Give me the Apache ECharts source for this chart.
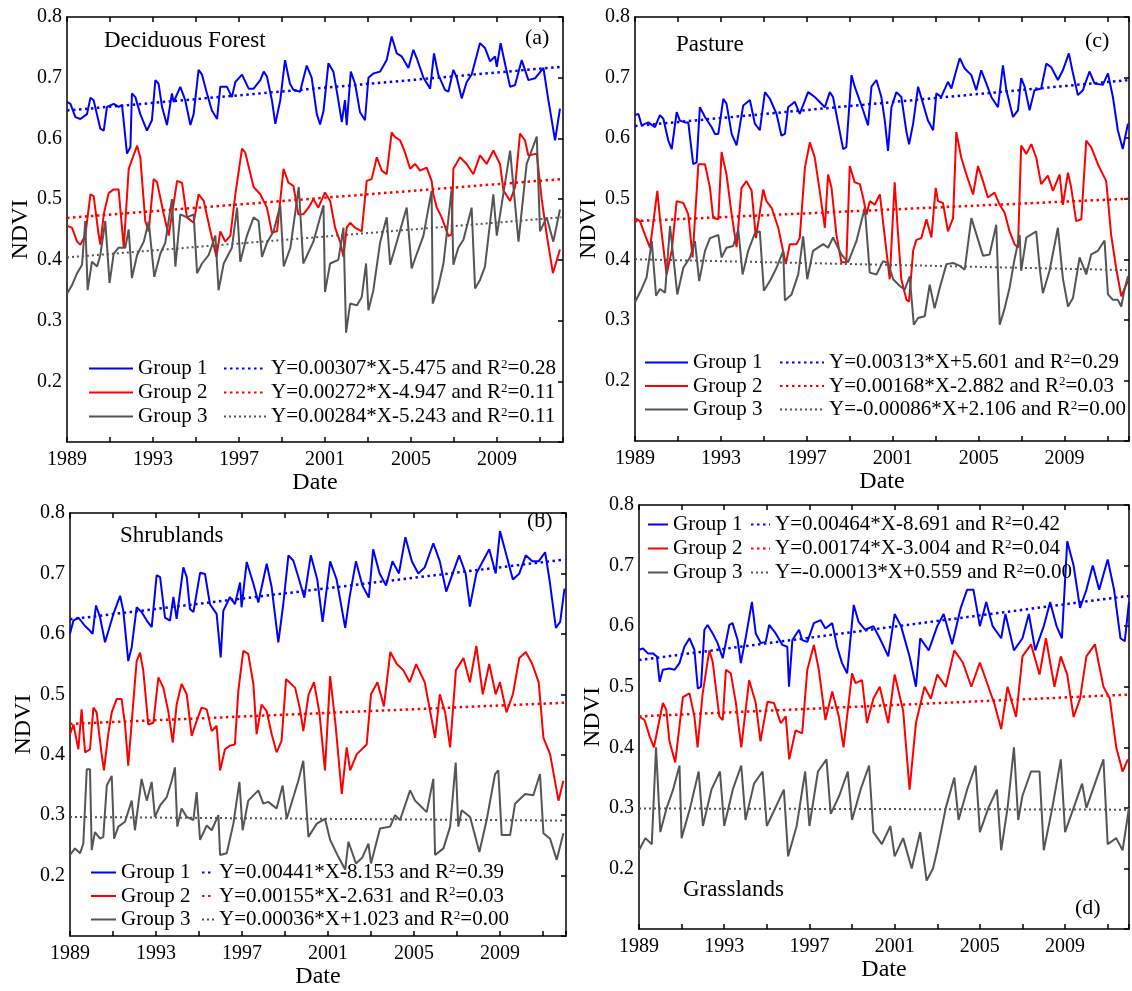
<!DOCTYPE html>
<html>
<head>
<meta charset="utf-8">
<title>NDVI by group</title>
<script src="https://cdn.jsdelivr.net/npm/echarts@6/dist/echarts.min.js"></script>
<style>
  html, body { margin: 0; padding: 0; background: #fff; }
  #chart { width: 1132px; height: 991px; }
</style>
</head>
<body>
<div id="chart"></div>
<script>
// tick labels
const yearTicks = [1989, 1993, 1997, 2001, 2005, 2009];
const ndviTicks = [0.2, 0.3, 0.4, 0.5, 0.6, 0.7, 0.8];
const groupNames = ['Group 1', 'Group 2', 'Group 3'];

// (a) Deciduous Forest, [year, NDVI]
const forestG1 = [[1989.0,0.66],[1989.16,0.657],[1989.39,0.635],[1989.62,0.632],[1989.93,0.64],[1990.09,0.667],[1990.24,0.663],[1990.55,0.616],[1990.71,0.613],[1990.86,0.652],[1991.17,0.657],[1991.4,0.652],[1991.56,0.655],[1991.79,0.575],[1991.95,0.586],[1992.02,0.674],[1992.18,0.668],[1992.41,0.64],[1992.72,0.613],[1992.95,0.63],[1993.11,0.696],[1993.26,0.69],[1993.42,0.652],[1993.65,0.622],[1993.88,0.674],[1993.96,0.66],[1994.27,0.685],[1994.5,0.663],[1994.74,0.622],[1994.89,0.64],[1995.12,0.713],[1995.28,0.705],[1995.51,0.674],[1995.74,0.646],[1995.98,0.632],[1996.13,0.685],[1996.44,0.685],[1996.67,0.668],[1996.83,0.693],[1997.14,0.705],[1997.45,0.682],[1997.68,0.682],[1997.99,0.696],[1998.15,0.71],[1998.3,0.702],[1998.53,0.663],[1998.69,0.624],[1998.92,0.663],[1999.14,0.729],[1999.37,0.69],[1999.53,0.68],[1999.84,0.677],[2000.15,0.72],[2000.38,0.70],[2000.62,0.64],[2000.77,0.623],[2000.93,0.645],[2001.16,0.724],[2001.39,0.71],[2001.62,0.663],[2001.78,0.627],[2001.93,0.663],[2002.01,0.622],[2002.2,0.71],[2002.4,0.69],[2002.63,0.643],[2002.86,0.63],[2003.02,0.70],[2003.25,0.707],[2003.56,0.71],[2003.87,0.729],[2004.1,0.768],[2004.34,0.74],[2004.57,0.735],[2004.88,0.716],[2005.11,0.746],[2005.27,0.732],[2005.58,0.70],[2005.89,0.682],[2006.07,0.74],[2006.27,0.705],[2006.58,0.68],[2006.74,0.677],[2006.97,0.713],[2007.13,0.70],[2007.36,0.666],[2007.59,0.693],[2007.82,0.705],[2008.21,0.757],[2008.44,0.749],[2008.68,0.727],[2008.91,0.735],[2008.99,0.718],[2009.17,0.757],[2009.3,0.735],[2009.61,0.685],[2009.84,0.688],[2010.15,0.729],[2010.46,0.696],[2010.77,0.699],[2011.16,0.716],[2011.39,0.663],[2011.7,0.597],[2011.93,0.649]];
const forestG2 = [[1989.0,0.456],[1989.23,0.453],[1989.47,0.43],[1989.62,0.425],[1989.85,0.44],[1990.09,0.508],[1990.24,0.505],[1990.47,0.442],[1990.55,0.425],[1990.71,0.475],[1990.94,0.51],[1991.17,0.516],[1991.4,0.516],[1991.64,0.42],[1991.87,0.55],[1992.26,0.588],[1992.41,0.569],[1992.64,0.464],[1992.8,0.447],[1993.03,0.533],[1993.19,0.528],[1993.5,0.475],[1993.73,0.44],[1994.12,0.53],[1994.35,0.527],[1994.58,0.47],[1994.89,0.461],[1995.12,0.508],[1995.36,0.497],[1995.67,0.447],[1995.95,0.405],[1996.13,0.447],[1996.36,0.43],[1996.6,0.44],[1996.83,0.508],[1997.14,0.583],[1997.29,0.577],[1997.68,0.52],[1997.99,0.508],[1998.3,0.486],[1998.53,0.445],[1998.77,0.447],[1999.07,0.55],[1999.3,0.527],[1999.53,0.522],[1999.76,0.475],[1999.99,0.475],[2000.23,0.486],[2000.46,0.5],[2000.69,0.486],[2001.0,0.511],[2001.24,0.497],[2001.47,0.453],[2001.7,0.43],[2001.86,0.405],[2002.01,0.453],[2002.17,0.461],[2002.4,0.453],[2002.71,0.447],[2002.94,0.53],[2003.17,0.533],[2003.41,0.569],[2003.64,0.547],[2003.87,0.541],[2004.1,0.61],[2004.26,0.602],[2004.49,0.597],[2004.72,0.577],[2004.96,0.55],[2005.19,0.558],[2005.42,0.547],[2005.73,0.552],[2005.96,0.53],[2006.04,0.508],[2006.2,0.486],[2006.43,0.47],[2006.74,0.439],[2006.89,0.442],[2006.97,0.55],[2007.28,0.569],[2007.59,0.558],[2007.9,0.541],[2008.21,0.572],[2008.52,0.558],[2008.83,0.58],[2009.14,0.558],[2009.3,0.514],[2009.61,0.497],[2009.84,0.52],[2010.07,0.608],[2010.3,0.597],[2010.46,0.572],[2010.85,0.575],[2011.08,0.5],[2011.31,0.442],[2011.6,0.378],[2011.93,0.417]];
const forestG3 = [[1989.0,0.344],[1989.23,0.358],[1989.47,0.378],[1989.7,0.392],[1989.85,0.464],[1989.96,0.35],[1990.16,0.397],[1990.4,0.389],[1990.55,0.408],[1990.78,0.464],[1990.98,0.362],[1991.17,0.41],[1991.4,0.42],[1991.71,0.42],[1991.87,0.45],[1992.02,0.37],[1992.26,0.408],[1992.57,0.43],[1992.8,0.463],[1993.06,0.372],[1993.34,0.41],[1993.57,0.428],[1993.88,0.5],[1994.04,0.389],[1994.27,0.475],[1994.58,0.47],[1994.89,0.475],[1995.05,0.378],[1995.28,0.394],[1995.59,0.408],[1995.9,0.44],[1996.05,0.35],[1996.29,0.394],[1996.67,0.42],[1996.91,0.486],[1997.06,0.397],[1997.37,0.44],[1997.68,0.47],[1997.91,0.464],[1998.07,0.405],[1998.3,0.428],[1998.61,0.447],[1998.92,0.49],[1999.08,0.389],[1999.39,0.42],[1999.78,0.52],[1999.99,0.394],[2000.46,0.43],[2000.93,0.49],[2001.0,0.347],[2001.24,0.394],[2001.62,0.4],[2001.86,0.453],[2001.98,0.28],[2002.17,0.328],[2002.48,0.325],[2002.71,0.339],[2002.91,0.394],[2003.02,0.317],[2003.25,0.35],[2003.56,0.428],[2003.87,0.47],[2004.03,0.392],[2004.26,0.42],[2004.8,0.486],[2005.03,0.386],[2005.27,0.41],[2005.58,0.44],[2005.96,0.514],[2006.01,0.328],[2006.27,0.356],[2006.51,0.394],[2006.89,0.516],[2006.97,0.392],[2007.2,0.42],[2007.44,0.433],[2007.82,0.486],[2007.98,0.353],[2008.21,0.367],[2008.44,0.389],[2008.83,0.508],[2008.99,0.44],[2009.61,0.58],[2010.0,0.43],[2010.38,0.558],[2010.85,0.603],[2011.0,0.447],[2011.31,0.47],[2011.62,0.43],[2011.93,0.483]];
const forestFit1 = [[1989, 0.646], [2012, 0.718]];
const forestFit2 = [[1989, 0.469], [2012, 0.533]];
const forestFit3 = [[1989, 0.404], [2012, 0.470]];
const forestEqs = ['Y=0.00307*X-5.475 and R2=0.28', 'Y=0.00272*X-4.947 and R2=0.11', 'Y=0.00284*X-5.243 and R2=0.11'];

// (c) Pasture
const pastureG1 = [[1989.0,0.638],[1989.16,0.64],[1989.31,0.621],[1989.62,0.626],[1989.93,0.618],[1990.16,0.638],[1990.32,0.632],[1990.55,0.596],[1990.71,0.582],[1990.94,0.643],[1991.09,0.629],[1991.33,0.626],[1991.48,0.626],[1991.71,0.557],[1991.87,0.56],[1992.02,0.651],[1992.26,0.635],[1992.57,0.618],[1992.72,0.607],[1992.88,0.607],[1993.11,0.665],[1993.26,0.657],[1993.5,0.607],[1993.73,0.588],[1994.04,0.654],[1994.35,0.663],[1994.58,0.624],[1994.81,0.613],[1995.05,0.676],[1995.28,0.665],[1995.59,0.64],[1995.82,0.604],[1995.98,0.607],[1996.13,0.651],[1996.44,0.66],[1996.67,0.64],[1997.06,0.676],[1997.37,0.668],[1997.84,0.651],[1998.07,0.676],[1998.22,0.668],[1998.46,0.624],[1998.69,0.582],[1998.84,0.585],[1999.08,0.704],[1999.23,0.685],[1999.62,0.646],[1999.85,0.621],[2000.01,0.685],[2000.24,0.696],[2000.47,0.668],[2000.63,0.629],[2000.78,0.579],[2000.94,0.651],[2001.17,0.676],[2001.4,0.668],[2001.64,0.61],[2001.76,0.59],[2001.95,0.624],[2002.18,0.685],[2002.41,0.657],[2002.64,0.629],[2002.88,0.613],[2003.03,0.674],[2003.26,0.668],[2003.57,0.693],[2003.73,0.682],[2003.96,0.712],[2004.12,0.732],[2004.35,0.715],[2004.66,0.704],[2004.89,0.679],[2005.12,0.712],[2005.36,0.69],[2005.59,0.668],[2005.9,0.651],[2006.13,0.72],[2006.29,0.679],[2006.6,0.635],[2006.83,0.646],[2006.98,0.699],[2007.14,0.685],[2007.37,0.646],[2007.6,0.679],[2007.91,0.682],[2008.15,0.723],[2008.38,0.717],[2008.69,0.696],[2008.92,0.712],[2009.2,0.74],[2009.36,0.712],[2009.62,0.671],[2009.85,0.679],[2010.16,0.71],[2010.4,0.69],[2010.78,0.688],[2011.02,0.707],[2011.25,0.668],[2011.48,0.613],[2011.71,0.582],[2011.95,0.624]];
const pastureG2 = [[1989.0,0.468],[1989.23,0.463],[1989.47,0.44],[1989.7,0.419],[1990.04,0.513],[1990.16,0.468],[1990.47,0.375],[1990.71,0.414],[1990.94,0.496],[1991.25,0.493],[1991.48,0.474],[1991.68,0.403],[1991.95,0.557],[1992.26,0.557],[1992.49,0.518],[1992.64,0.468],[1992.88,0.466],[1993.03,0.577],[1993.26,0.54],[1993.5,0.474],[1993.73,0.42],[1993.96,0.518],[1994.19,0.529],[1994.43,0.513],[1994.63,0.435],[1994.97,0.515],[1995.12,0.496],[1995.36,0.485],[1995.67,0.452],[1996.02,0.392],[1996.21,0.425],[1996.52,0.425],[1996.67,0.435],[1996.91,0.551],[1997.14,0.593],[1997.37,0.568],[1997.6,0.513],[1997.84,0.452],[1997.99,0.54],[1998.15,0.518],[1998.38,0.44],[1998.61,0.395],[1998.84,0.395],[1999.0,0.554],[1999.23,0.527],[1999.47,0.524],[1999.62,0.502],[1999.78,0.474],[1999.93,0.496],[2000.16,0.49],[2000.4,0.507],[2000.86,0.367],[2001.09,0.527],[2001.25,0.44],[2001.4,0.367],[2001.64,0.333],[2001.76,0.33],[2001.95,0.414],[2002.1,0.432],[2002.33,0.435],[2002.57,0.466],[2002.8,0.436],[2003.0,0.518],[2003.11,0.496],[2003.34,0.493],[2003.57,0.446],[2003.81,0.468],[2003.96,0.61],[2004.19,0.568],[2004.43,0.54],[2004.74,0.507],[2004.97,0.554],[2005.2,0.529],[2005.43,0.502],[2005.74,0.51],[2005.98,0.49],[2006.21,0.477],[2006.44,0.446],[2006.67,0.425],[2006.83,0.419],[2006.98,0.588],[2007.22,0.574],[2007.45,0.59],[2007.68,0.568],[2007.91,0.524],[2008.22,0.538],[2008.46,0.513],[2008.77,0.54],[2008.92,0.49],[2009.16,0.543],[2009.31,0.518],[2009.54,0.463],[2009.78,0.466],[2010.01,0.596],[2010.24,0.585],[2010.55,0.557],[2010.94,0.529],[2011.17,0.44],[2011.4,0.386],[2011.64,0.339],[2011.95,0.364]];
const pastureG3 = [[1989.0,0.329],[1989.31,0.351],[1989.54,0.37],[1989.78,0.43],[1989.98,0.34],[1990.16,0.351],[1990.4,0.345],[1990.63,0.455],[1990.97,0.342],[1991.25,0.386],[1991.56,0.403],[1991.79,0.43],[1991.99,0.364],[1992.26,0.414],[1992.49,0.435],[1992.88,0.44],[1993.03,0.403],[1993.26,0.419],[1993.57,0.422],[1993.81,0.449],[1994.01,0.375],[1994.27,0.414],[1994.58,0.443],[1994.81,0.446],[1995.0,0.348],[1995.28,0.364],[1995.59,0.386],[1995.9,0.414],[1995.98,0.332],[1996.29,0.342],[1996.6,0.375],[1996.83,0.438],[1997.02,0.367],[1997.29,0.414],[1997.76,0.425],[1997.99,0.419],[1998.22,0.436],[1998.61,0.408],[1998.92,0.395],[1999.31,0.43],[1999.7,0.485],[1999.93,0.378],[2000.24,0.375],[2000.55,0.397],[2000.78,0.394],[2001.02,0.367],[2001.33,0.356],[2001.56,0.35],[2001.79,0.372],[2001.98,0.292],[2002.18,0.303],[2002.49,0.306],[2002.72,0.358],[2002.95,0.319],[2003.19,0.353],[2003.5,0.392],[2003.81,0.394],[2004.12,0.389],[2004.35,0.383],[2004.66,0.468],[2004.89,0.442],[2005.2,0.406],[2005.51,0.408],[2005.82,0.457],[2005.98,0.292],[2006.21,0.319],[2006.44,0.353],[2006.67,0.4],[2006.91,0.44],[2006.98,0.381],[2007.22,0.436],[2007.68,0.446],[2007.84,0.386],[2007.99,0.344],[2008.3,0.381],[2008.69,0.452],[2008.92,0.369],[2009.16,0.322],[2009.39,0.336],[2009.7,0.403],[2010.01,0.375],[2010.24,0.408],[2010.55,0.414],[2010.86,0.431],[2011.02,0.342],[2011.25,0.333],[2011.48,0.333],[2011.64,0.322],[2011.79,0.35],[2011.95,0.372]];
const pastureFit1 = [[1989, 0.620], [2012, 0.696]];
const pastureFit2 = [[1989, 0.463], [2012, 0.500]];
const pastureFit3 = [[1989, 0.400], [2012, 0.382]];
const pastureEqs = ['Y=0.00313*X+5.601 and R2=0.29', 'Y=0.00168*X-2.882 and R2=0.03', 'Y=-0.00086*X+2.106 and R2=0.00'];

// (b) Shrublands
const shrubG1 = [[1989.0,0.6],[1989.16,0.622],[1989.39,0.627],[1989.7,0.613],[1989.93,0.605],[1990.05,0.6],[1990.21,0.647],[1990.4,0.627],[1990.63,0.586],[1990.71,0.586],[1991.02,0.633],[1991.33,0.663],[1991.48,0.638],[1991.71,0.555],[1991.87,0.578],[1992.1,0.644],[1992.33,0.636],[1992.57,0.622],[1992.8,0.611],[1993.03,0.697],[1993.19,0.694],[1993.42,0.627],[1993.65,0.622],[1993.81,0.661],[1993.96,0.625],[1994.27,0.71],[1994.43,0.694],[1994.58,0.641],[1994.74,0.636],[1995.05,0.701],[1995.28,0.699],[1995.51,0.649],[1995.82,0.633],[1996.01,0.561],[1996.13,0.638],[1996.44,0.661],[1996.67,0.649],[1996.91,0.685],[1996.98,0.644],[1997.22,0.719],[1997.53,0.683],[1997.76,0.652],[1998.15,0.716],[1998.38,0.677],[1998.69,0.586],[1998.92,0.649],[1999.16,0.73],[1999.39,0.721],[1999.62,0.694],[1999.9,0.66],[2000.2,0.73],[2000.5,0.69],[2000.75,0.62],[2001.1,0.72],[2001.4,0.69],[2001.8,0.61],[2002.0,0.66],[2002.3,0.72],[2002.6,0.68],[2002.9,0.66],[2003.1,0.74],[2003.4,0.70],[2003.7,0.68],[2004.0,0.72],[2004.3,0.70],[2004.6,0.76],[2004.9,0.72],[2005.2,0.70],[2005.5,0.71],[2005.9,0.75],[2006.2,0.72],[2006.5,0.67],[2006.8,0.70],[2007.1,0.73],[2007.4,0.70],[2007.6,0.645],[2007.9,0.70],[2008.2,0.72],[2008.5,0.74],[2008.8,0.70],[2009.0,0.77],[2009.3,0.73],[2009.6,0.69],[2009.9,0.70],[2010.2,0.73],[2010.5,0.72],[2010.8,0.72],[2011.1,0.735],[2011.3,0.69],[2011.6,0.61],[2011.8,0.62],[2012.0,0.675]];
const shrubG2 = [[1989.0,0.434],[1989.16,0.45],[1989.39,0.409],[1989.54,0.475],[1989.7,0.404],[1989.93,0.409],[1990.09,0.478],[1990.24,0.47],[1990.47,0.401],[1990.58,0.374],[1990.78,0.434],[1990.94,0.47],[1991.17,0.492],[1991.4,0.492],[1991.56,0.45],[1991.71,0.382],[1991.95,0.489],[1992.1,0.555],[1992.26,0.569],[1992.41,0.539],[1992.64,0.45],[1992.88,0.453],[1993.11,0.528],[1993.34,0.511],[1993.57,0.472],[1993.78,0.42],[1993.96,0.483],[1994.19,0.517],[1994.43,0.5],[1994.66,0.431],[1994.89,0.456],[1995.12,0.478],[1995.36,0.475],[1995.59,0.439],[1995.82,0.448],[1995.98,0.374],[1996.21,0.409],[1996.44,0.415],[1996.67,0.417],[1996.83,0.506],[1997.06,0.572],[1997.29,0.567],[1997.53,0.517],[1997.68,0.434],[1997.91,0.483],[1998.15,0.472],[1998.38,0.434],[1998.61,0.404],[1998.84,0.423],[1999.05,0.525],[1999.23,0.519],[1999.47,0.511],[1999.7,0.475],[1999.85,0.439],[2000.1,0.5],[2000.35,0.52],[2000.6,0.47],[2000.86,0.374],[2001.1,0.53],[2001.35,0.45],[2001.64,0.335],[2001.87,0.412],[2002.03,0.374],[2002.34,0.401],[2002.8,0.417],[2003.0,0.5],[2003.3,0.52],[2003.6,0.48],[2003.9,0.57],[2004.2,0.55],[2004.5,0.54],[2004.8,0.52],[2005.1,0.55],[2005.5,0.52],[2005.98,0.428],[2006.2,0.5],[2006.45,0.47],[2006.68,0.412],[2006.95,0.54],[2007.3,0.56],[2007.6,0.52],[2007.9,0.58],[2008.2,0.5],[2008.5,0.55],[2008.8,0.5],[2009.0,0.52],[2009.3,0.47],[2009.6,0.5],[2009.9,0.56],[2010.2,0.57],[2010.5,0.55],[2010.8,0.52],[2011.02,0.428],[2011.33,0.401],[2011.72,0.324],[2011.95,0.357]];
const shrubG3 = [[1989.0,0.234],[1989.23,0.245],[1989.47,0.237],[1989.62,0.253],[1989.78,0.376],[1989.93,0.376],[1990.01,0.242],[1990.16,0.272],[1990.4,0.261],[1990.55,0.264],[1990.71,0.349],[1990.94,0.365],[1991.05,0.261],[1991.25,0.281],[1991.56,0.289],[1991.87,0.324],[1992.02,0.275],[1992.33,0.36],[1992.57,0.324],[1992.8,0.355],[1992.95,0.297],[1993.19,0.316],[1993.5,0.33],[1993.73,0.357],[1993.88,0.379],[1993.99,0.281],[1994.19,0.311],[1994.43,0.297],[1994.74,0.292],[1994.89,0.338],[1995.05,0.259],[1995.36,0.283],[1995.59,0.275],[1995.9,0.3],[1995.98,0.234],[1996.29,0.237],[1996.6,0.286],[1996.88,0.355],[1997.03,0.275],[1997.29,0.324],[1997.76,0.341],[1997.99,0.319],[1998.22,0.322],[1998.61,0.311],[1998.89,0.349],[1999.08,0.294],[1999.39,0.33],[1999.62,0.357],[1999.85,0.39],[2000.09,0.264],[2000.48,0.286],[2000.86,0.294],[2001.1,0.259],[2001.48,0.231],[2001.8,0.21],[2001.95,0.256],[2002.3,0.22],[2002.6,0.23],[2002.88,0.253],[2003.0,0.22],[2003.42,0.278],[2003.89,0.281],[2004.12,0.3],[2004.35,0.292],[2004.82,0.341],[2005.05,0.324],[2005.28,0.316],[2005.59,0.305],[2005.9,0.36],[2005.98,0.234],[2006.37,0.245],[2006.68,0.281],[2006.94,0.387],[2007.06,0.281],[2007.22,0.308],[2007.61,0.297],[2008.04,0.239],[2008.38,0.292],[2008.77,0.368],[2008.92,0.374],[2009.08,0.267],[2009.47,0.267],[2009.7,0.319],[2010.17,0.335],[2010.55,0.333],[2010.86,0.368],[2011.02,0.27],[2011.33,0.261],[2011.64,0.226],[2011.95,0.27]];
const shrubFit1 = [[1989, 0.624], [2012, 0.723]];
const shrubFit2 = [[1989, 0.451], [2012, 0.486]];
const shrubFit3 = [[1989, 0.297], [2012, 0.291]];
const shrubEqs = ['Y=0.00441*X-8.153 and R2=0.39', 'Y=0.00155*X-2.631 and R2=0.03', 'Y=0.00036*X+1.023 and R2=0.00'];

// (d) Grasslands
const grassG1 = [[1989.0,0.561],[1989.19,0.563],[1989.42,0.555],[1989.65,0.555],[1989.84,0.55],[1989.97,0.508],[1990.12,0.528],[1990.43,0.53],[1990.67,0.528],[1990.9,0.539],[1991.13,0.566],[1991.37,0.58],[1991.6,0.561],[1991.76,0.497],[1991.91,0.5],[1992.07,0.594],[1992.22,0.602],[1992.46,0.588],[1992.69,0.572],[1992.93,0.547],[1993.24,0.602],[1993.39,0.605],[1993.63,0.577],[1993.78,0.539],[1994.02,0.583],[1994.3,0.64],[1994.48,0.588],[1994.72,0.572],[1994.95,0.574],[1995.11,0.602],[1995.42,0.588],[1995.73,0.569],[1995.96,0.566],[1996.04,0.5],[1996.2,0.577],[1996.51,0.594],[1996.66,0.577],[1996.9,0.574],[1997.21,0.605],[1997.52,0.61],[1997.75,0.596],[1998.07,0.605],[1998.3,0.566],[1998.53,0.539],[1998.77,0.522],[1999.08,0.635],[1999.31,0.607],[1999.62,0.594],[2000.0,0.6],[2000.3,0.58],[2000.7,0.55],[2001.0,0.62],[2001.3,0.6],[2001.7,0.55],[2002.0,0.5],[2002.2,0.58],[2002.6,0.56],[2003.0,0.6],[2003.3,0.62],[2003.7,0.57],[2004.1,0.63],[2004.4,0.66],[2004.7,0.66],[2005.0,0.6],[2005.3,0.64],[2005.6,0.6],[2006.0,0.58],[2006.2,0.62],[2006.6,0.56],[2007.0,0.58],[2007.3,0.62],[2007.6,0.56],[2008.0,0.6],[2008.3,0.64],[2008.6,0.6],[2008.85,0.58],[2009.1,0.74],[2009.4,0.70],[2009.7,0.63],[2010.0,0.66],[2010.3,0.70],[2010.6,0.66],[2011.0,0.71],[2011.3,0.66],[2011.6,0.58],[2011.8,0.575],[2012.0,0.64]];
const grassG2 = [[1989.0,0.451],[1989.26,0.445],[1989.5,0.418],[1989.7,0.4],[1990.12,0.473],[1990.28,0.462],[1990.43,0.41],[1990.7,0.375],[1991.06,0.483],[1991.37,0.489],[1991.6,0.451],[1991.75,0.4],[1991.99,0.489],[1992.3,0.56],[1992.46,0.541],[1992.77,0.451],[1992.93,0.445],[1993.08,0.528],[1993.31,0.522],[1993.55,0.473],[1993.8,0.4],[1994.17,0.511],[1994.48,0.473],[1994.7,0.41],[1995.03,0.475],[1995.34,0.473],[1995.65,0.44],[1995.89,0.451],[1996.05,0.38],[1996.35,0.428],[1996.66,0.423],[1996.9,0.528],[1997.21,0.569],[1997.44,0.528],[1997.75,0.445],[1998.07,0.492],[1998.38,0.451],[1998.6,0.4],[1999.0,0.522],[1999.16,0.506],[1999.47,0.511],[1999.7,0.44],[2000.0,0.48],[2000.3,0.5],[2000.7,0.44],[2001.0,0.52],[2001.4,0.46],[2001.7,0.33],[2002.0,0.44],[2002.4,0.5],[2002.7,0.48],[2003.0,0.52],[2003.4,0.5],[2003.8,0.56],[2004.2,0.54],[2004.6,0.5],[2005.0,0.54],[2005.4,0.5],[2005.7,0.47],[2006.0,0.43],[2006.3,0.5],[2006.7,0.45],[2007.0,0.55],[2007.4,0.57],[2007.8,0.52],[2008.1,0.58],[2008.5,0.5],[2008.8,0.55],[2009.1,0.52],[2009.4,0.45],[2009.7,0.48],[2010.0,0.55],[2010.4,0.57],[2010.8,0.5],[2011.1,0.48],[2011.4,0.4],[2011.7,0.36],[2011.95,0.38]];
const grassG3 = [[1989.0,0.23],[1989.3,0.25],[1989.6,0.24],[1989.8,0.40],[1990.0,0.26],[1990.3,0.30],[1990.6,0.33],[1990.9,0.37],[1991.0,0.25],[1991.4,0.30],[1991.8,0.36],[1992.0,0.27],[1992.4,0.33],[1992.8,0.36],[1993.0,0.27],[1993.4,0.33],[1993.8,0.37],[1994.0,0.28],[1994.4,0.34],[1994.8,0.36],[1995.0,0.27],[1995.4,0.30],[1995.8,0.33],[1996.0,0.22],[1996.4,0.27],[1996.8,0.36],[1997.0,0.27],[1997.4,0.36],[1997.8,0.38],[1998.0,0.29],[1998.4,0.32],[1998.8,0.36],[1999.0,0.28],[1999.4,0.33],[1999.8,0.37],[2000.0,0.26],[2000.4,0.24],[2000.8,0.27],[2001.0,0.22],[2001.4,0.25],[2001.8,0.20],[2002.2,0.26],[2002.5,0.18],[2002.8,0.20],[2003.0,0.23],[2003.4,0.30],[2003.8,0.35],[2004.0,0.28],[2004.4,0.33],[2004.8,0.37],[2005.0,0.26],[2005.4,0.30],[2005.8,0.33],[2006.0,0.23],[2006.3,0.30],[2006.6,0.40],[2006.8,0.28],[2007.0,0.32],[2007.4,0.36],[2007.8,0.36],[2008.0,0.23],[2008.4,0.30],[2008.8,0.38],[2009.0,0.26],[2009.4,0.30],[2009.8,0.34],[2010.0,0.30],[2010.4,0.34],[2010.8,0.38],[2011.0,0.24],[2011.4,0.25],[2011.7,0.23],[2012.0,0.30]];
const grassFit1 = [[1989, 0.544], [2012, 0.650]];
const grassFit2 = [[1989, 0.451], [2012, 0.487]];
const grassFit3 = [[1989, 0.299], [2012, 0.297]];
const grassEqs = ['Y=0.00464*X-8.691 and R2=0.42', 'Y=0.00174*X-3.004 and R2=0.04', 'Y=-0.00013*X+0.559 and R2=0.00'];

const SERIF = '"Liberation Serif", "DejaVu Serif", serif';
const COLORS = ['#0000ff', '#ff0000', '#555555'];

const panels = [
  { name: 'Deciduous Forest', tag: '(a)', grid: { left: 67, top: 17, width: 496, height: 425 }, xMax: 2012.07,
    lines: [forestG1, forestG2, forestG3], fits: [forestFit1, forestFit2, forestFit3], eqs: forestEqs,
    namePos: [104, 41], tagPos: [525, 38], dateGap: 28,
    gLeg: [88, 358, 44], eLeg: [223, 358, 42], legGap: 3 },
  { name: 'Pasture', tag: '(c)', grid: { left: 635, top: 17, width: 494, height: 424 }, xMax: 2012,
    lines: [pastureG1, pastureG2, pastureG3], fits: [pastureFit1, pastureFit2, pastureFit3], eqs: pastureEqs,
    namePos: [676, 45], tagPos: [1085, 41], dateGap: 26,
    gLeg: [644, 352, 43], eLeg: [779, 352, 44], legGap: 2.5 },
  { name: 'Shrublands', tag: '(b)', grid: { left: 70, top: 513, width: 496, height: 423 }, xMax: 2012.07,
    lines: [shrubG1, shrubG2, shrubG3], fits: [shrubFit1, shrubFit2, shrubFit3], eqs: shrubEqs,
    namePos: [120, 536], tagPos: [527, 521], dateGap: 25,
    gLeg: [90, 862, 25], eLeg: [201, 862, 12], legGap: 2.5 },
  { name: 'Grasslands', tag: '(d)', grid: { left: 639, top: 505, width: 491, height: 424 }, xMax: 2012,
    lines: [grassG1, grassG2, grassG3], fits: [grassFit1, grassFit2, grassFit3], eqs: grassEqs,
    namePos: [683, 890], tagPos: [1075, 908], dateGap: 28,
    gLeg: [647, 514, 20], eLeg: [750, 514, 19], legGap: 3 }
];

const legendText = {
  fontFamily: SERIF, fontSize: 21, color: '#000', lineHeight: 21,
  rich: { sup: { fontFamily: SERIF, fontSize: 13, lineHeight: 13, verticalAlign: 'top', color: '#000' } }
};

const option = {
  backgroundColor: '#fff',
  animation: false,
  grid: [], xAxis: [], yAxis: [], series: [], legend: [], graphic: []
};

panels.forEach((p, i) => {
  option.grid.push(p.grid);
  const blackLine = { color: '#000', width: 1.5 };
  // bottom + top x axes
  option.xAxis.push({
    type: 'value', gridIndex: i, min: 1989, max: p.xMax, interval: 2,
    axisLine: { onZero: false, lineStyle: blackLine },
    axisTick: { inside: true, length: 5, lineStyle: blackLine },
    axisLabel: {
      margin: 8, color: '#000', fontFamily: SERIF, fontSize: 20,
      formatter: v => yearTicks.includes(v) ? String(v) : ''
    },
    splitLine: { show: false },
    name: 'Date', nameLocation: 'middle', nameGap: p.dateGap,
    nameTextStyle: { fontFamily: SERIF, fontSize: 24, color: '#000' }
  });
  option.xAxis.push({
    type: 'value', gridIndex: i, position: 'top', min: 1989, max: p.xMax, interval: 2,
    axisLine: { onZero: false, lineStyle: blackLine },
    axisTick: { inside: true, length: 5, lineStyle: blackLine },
    axisLabel: { show: false }, splitLine: { show: false }
  });
  // left + right y axes
  option.yAxis.push({
    type: 'value', gridIndex: i, min: 0.1, max: 0.8, interval: 0.1,
    axisLine: { onZero: false, lineStyle: blackLine },
    axisTick: { show: false },
    axisLabel: {
      margin: 5, color: '#000', fontFamily: SERIF, fontSize: 20,
      formatter: v => ndviTicks.some(t => Math.abs(t - v) < 1e-6) ? v.toFixed(1) : ''
    },
    splitLine: { show: false },
    name: 'NDVI', nameLocation: 'middle', nameGap: 34, nameRotate: 90,
    nameTextStyle: { fontFamily: SERIF, fontSize: 24, color: '#000' }
  });
  option.yAxis.push({
    type: 'value', gridIndex: i, position: 'right', min: 0.1, max: 0.8, interval: 0.1,
    axisLine: { onZero: false, lineStyle: blackLine },
    axisTick: { inside: true, length: 5, lineStyle: blackLine },
    axisLabel: { show: false }, splitLine: { show: false }
  });

  p.lines.forEach((d, k) => {
    option.series.push({
      name: groupNames[k], type: 'line', data: d,
      xAxisIndex: 2 * i, yAxisIndex: 2 * i, symbol: 'none',
      lineStyle: { color: COLORS[k], width: 2 }, itemStyle: { color: COLORS[k] }, z: 2
    });
  });
  p.fits.forEach((d, k) => {
    option.series.push({
      name: p.eqs[k], type: 'line', data: d,
      xAxisIndex: 2 * i, yAxisIndex: 2 * i, symbol: 'none',
      lineStyle: { color: COLORS[k], width: k === 2 ? 2 : 2.5, type: k === 2 ? [2, 3] : [2.5, 3.5] },
      itemStyle: { color: COLORS[k] }, z: 3
    });
  });

  // legend: line icons only, no marker dot
  const legBase = {
    orient: 'vertical', padding: 0, itemGap: p.legGap, itemHeight: 12,
    selectedMode: false, textStyle: legendText,
    itemStyle: { opacity: 0 }
  };
  option.legend.push(Object.assign({}, legBase, {
    data: groupNames, left: p.gLeg[0], top: p.gLeg[1], itemWidth: p.gLeg[2]
  }));
  option.legend.push(Object.assign({}, legBase, {
    data: p.eqs, left: p.eLeg[0], top: p.eLeg[1], itemWidth: p.eLeg[2],
    formatter: n => n.replace('R2=', 'R{sup|2}=')
  }));

  option.graphic.push({
    type: 'text', x: p.namePos[0], y: p.namePos[1],
    style: { text: p.name, fontFamily: SERIF, fontSize: 23, fill: '#000', verticalAlign: 'middle' }
  });
  option.graphic.push({
    type: 'text', x: p.tagPos[0], y: p.tagPos[1],
    style: { text: p.tag, fontFamily: SERIF, fontSize: 22, fill: '#000', verticalAlign: 'middle' }
  });
});

const chart = echarts.init(document.getElementById('chart'));
chart.setOption(option);
</script>
</body>
</html>
